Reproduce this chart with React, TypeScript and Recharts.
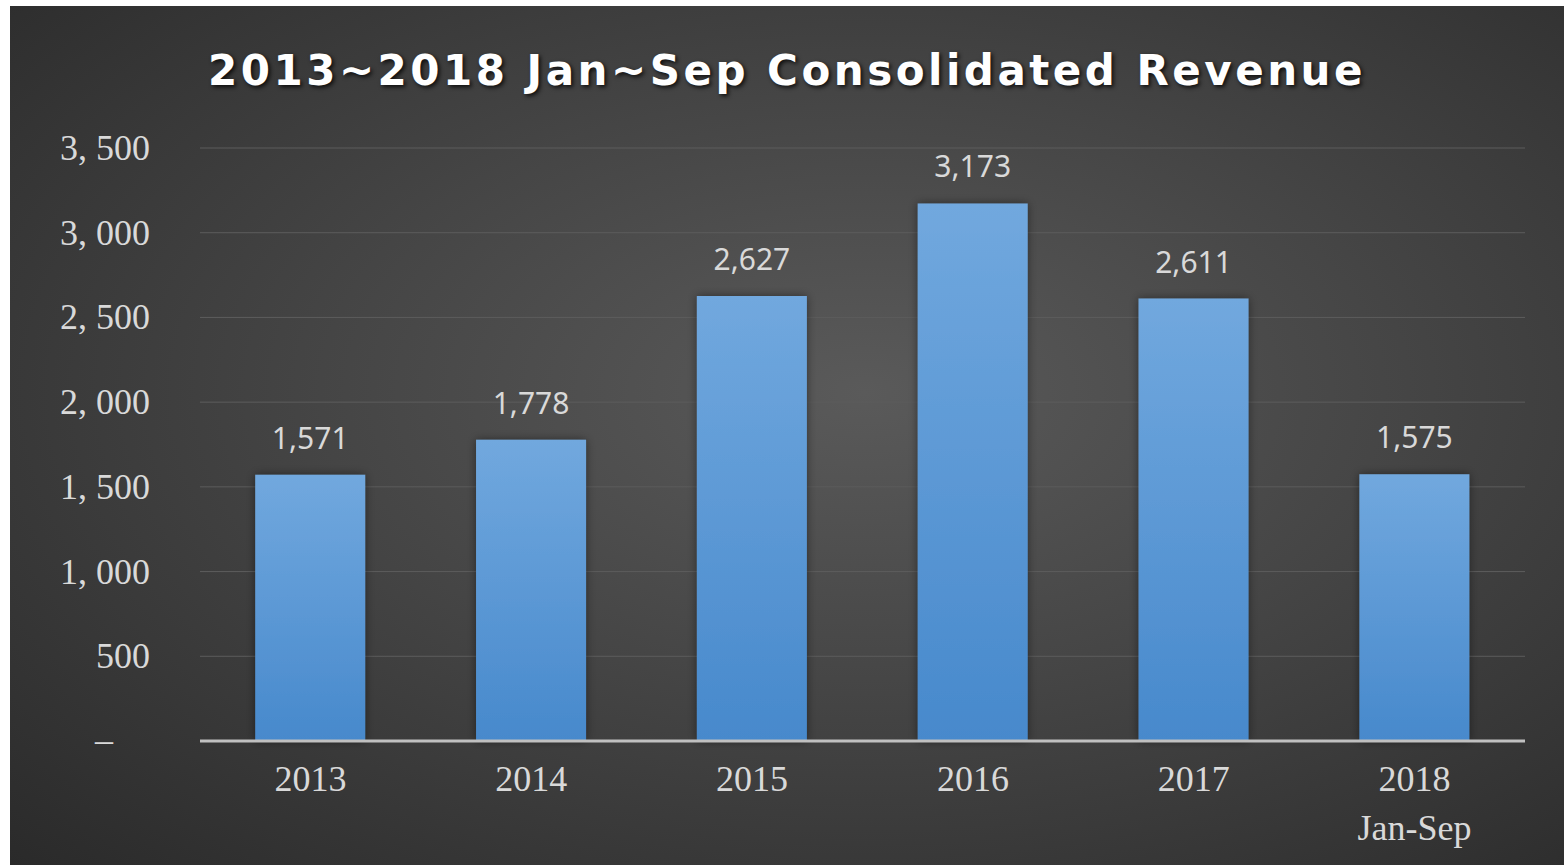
import { BarChart, Bar, XAxis, YAxis, CartesianGrid, LabelList } from "recharts";

const years = ["2013", "2014", "2015", "2016", "2017", "2018"];
const subLabels = ["", "", "", "", "", "Jan-Sep"];
const revenue = [1571, 1778, 2627, 3173, 2611, 1575];
const yTicks = [0, 500, 1000, 1500, 2000, 2500, 3000, 3500];

const data = years.map((y, i) => ({ year: y, sub: subLabels[i], value: revenue[i] }));

const W = 1554;
const H = 859;
const serif = "'Liberation Serif', 'DejaVu Serif', serif";
const sans = "'Noto Sans', 'Open Sans', sans-serif";

function YTick(props: any) {
  const { x, y, payload } = props;
  const v = payload.value as number;
  if (v === 0) {
    return (
      <text x={x - 87} y={y} dy={11} textAnchor="end" fill="#d9d9d9" fontSize={36} fontFamily={serif}>
        –
      </text>
    );
  }
  const s = v.toLocaleString("en-US").replace(",", ", ");
  return (
    <text x={x - 50} y={y} dy={12} textAnchor="end" fill="#d9d9d9" fontSize={36} fontFamily={serif}>
      {s}
    </text>
  );
}

function XTick(props: any) {
  const { x, y, payload, index } = props;
  const sub = subLabels[index];
  return (
    <g>
      <text x={x} y={y + 42} textAnchor="middle" fill="#d9d9d9" fontSize={36} fontFamily={serif}>
        {payload.value}
      </text>
      {sub ? (
        <text x={x} y={y + 91} textAnchor="middle" fill="#d9d9d9" fontSize={36} fontFamily={serif}>
          {sub}
        </text>
      ) : null}
    </g>
  );
}

export default function App() {
  return (
    <div
      style={{
        position: "absolute",
        left: 10,
        top: 6,
        width: W,
        height: H,
        background: "radial-gradient(ellipse at 55% 45%, #5a5a5a 0%, #454545 45%, #2a2a2a 100%)",
      }}
    >
      <div
        style={{
          position: "absolute",
          left: 0,
          top: 40,
          width: W,
          textAlign: "center",
          color: "#ffffff",
          fontFamily: "'DejaVu Sans', Verdana, sans-serif",
          fontWeight: "bold",
          fontSize: 42,
          letterSpacing: 3.5,
          textShadow: "2px 2px 4px rgba(0,0,0,0.8)",
        }}
      >
        2013~2018 Jan~Sep Consolidated Revenue
      </div>
      <BarChart
        width={W}
        height={H}
        data={data}
        margin={{ top: 142, right: 39, bottom: 0, left: 0 }}
        barCategoryGap="25%"
        style={{ position: "absolute", left: 0, top: 0 }}
      >
        <defs>
          <linearGradient id="barFill" x1="0" y1="0" x2="0" y2="1">
            <stop offset="0%" stopColor="#71a8de" />
            <stop offset="100%" stopColor="#4789cc" />
          </linearGradient>
          <filter id="barShadow" x="-20%" y="-10%" width="140%" height="120%">
            <feDropShadow dx="0" dy="0" stdDeviation="5" floodColor="#000000" floodOpacity="0.45" />
          </filter>
        </defs>
        <CartesianGrid vertical={false} stroke="#5c5c5c" strokeWidth={1} />
        <XAxis
          dataKey="year"
          height={124}
          axisLine={{ stroke: "#c0c0c0", strokeWidth: 3 }}
          tickLine={false}
          tick={<XTick />}
          interval={0}
        />
        <YAxis
          width={190}
          domain={[0, 3500]}
          ticks={yTicks}
          axisLine={false}
          tickLine={false}
          tickSize={0}
          tickMargin={0}
          tick={<YTick />}
          interval={0}
        />
        <Bar dataKey="value" fill="url(#barFill)" filter="url(#barShadow)" isAnimationActive={false}>
          <LabelList
            dataKey="value"
            position="top"
            offset={26}
            fill="#d9d9d9"
            fontSize={30}
            fontFamily={sans}
            formatter={(v: any) => Number(v).toLocaleString("en-US")}
          />
        </Bar>
      </BarChart>
    </div>
  );
}
